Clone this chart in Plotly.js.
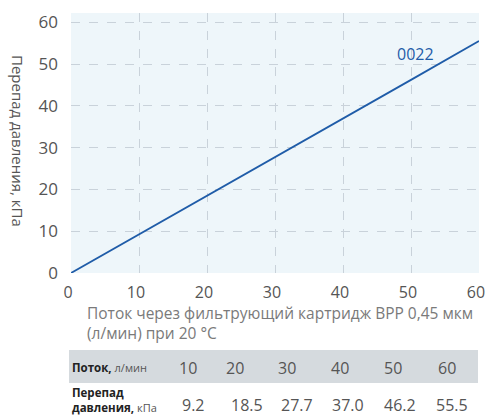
<!DOCTYPE html>
<html>
<head>
<meta charset="utf-8">
<script src="https://cdn.plot.ly/plotly-3.0.1.min.js"></script>
<style>html,body{margin:0;padding:0;background:#fff;}#chart{width:486px;height:416px;}</style>
</head>
<body>
<div id="chart"></div>
<script>
// Data
const flow = [0, 10, 20, 30, 40, 50, 60];
const pressureDrop = [0, 9.2, 18.5, 27.7, 37.0, 46.2, 55.5];
const seriesName = "0022";
const tableFlow = ["10", "20", "30", "40", "50", "60"];
const tableDrop = ["9.2", "18.5", "27.7", "37.0", "46.2", "55.5"];
const yTicks = [0, 10, 20, 30, 40, 50, 60];
const xTicks = [0, 10, 20, 30, 40, 50, 60];

const W = 486, H = 416;
const L = 71, R = 7, T = 13, B = 143;
const pw = W - L - R, ph = H - T - B;
const px = v => (v - L) / pw;
const py = v => (H - B - v) / ph;

const font = "'Open Sans', 'Noto Sans', sans-serif";
const blue = "#1f5ca8";

const trace = {
  x: flow, y: pressureDrop, type: "scatter", mode: "lines",
  line: {color: blue, width: 1.8}, hoverinfo: "skip", showlegend: false
};

const annotations = [];
annotations.push({
  x: 50.6, y: 52.4, xref: "x", yref: "y", text: seriesName, showarrow: false,
  xanchor: "center", yanchor: "middle",
  font: {family: font, size: 16, color: blue}
});
annotations.push({
  x: px(18), y: py(141), xref: "paper", yref: "paper", xanchor: "center", yanchor: "middle",
  showarrow: false, textangle: 90, text: "Перепад давления, кПа",
  font: {family: font, size: 15, color: "#555"}
});
annotations.push({
  x: px(85), y: py(300), xref: "paper", yref: "paper", xanchor: "left", yanchor: "top",
  align: "left", showarrow: false,
  text: "Поток через фильтрующий картридж BPP 0,45 мкм<br>(л/мин) при 20 °C",
  font: {family: font, size: 15.5, color: "#7a7a7a"}
});
// Table labels
annotations.push({
  x: px(70), y: py(367), xref: "paper", yref: "paper", xanchor: "left", yanchor: "middle",
  showarrow: false, align: "left",
  text: "<b>Поток,</b> <span style='font-size:11px;color:#555'>л/мин</span>",
  font: {family: font, size: 11.5, color: "#222"}
});
annotations.push({
  x: px(70), y: py(400), xref: "paper", yref: "paper", xanchor: "left", yanchor: "middle",
  showarrow: false, align: "left",
  text: "<b>Перепад</b><br><b>давления,</b> <span style='font-size:11px;color:#555'>кПа</span>",
  font: {family: font, size: 11.5, color: "#222"}
});
const row1x = [188, 235, 287, 340, 393, 447];
const row2x = [193, 247, 297, 348, 400, 452];
tableFlow.forEach((t, i) => annotations.push({
  x: px(row1x[i]), y: py(368), xref: "paper", yref: "paper", xanchor: "center", yanchor: "middle",
  showarrow: false, text: t, font: {family: font, size: 16, color: "#555"}
}));
tableDrop.forEach((t, i) => annotations.push({
  x: px(row2x[i]), y: py(405), xref: "paper", yref: "paper", xanchor: "center", yanchor: "middle",
  showarrow: false, text: t, font: {family: font, size: 16, color: "#555"}
}));

const shapes = [{
  type: "rect", xref: "paper", yref: "paper",
  x0: px(69), x1: px(478), y0: py(383), y1: py(350),
  fillcolor: "#d5dade", line: {width: 0}, layer: "below"
}];

const layout = {
  width: W, height: H,
  margin: {l: L, r: R, t: T, b: B, pad: 0},
  paper_bgcolor: "#ffffff", plot_bgcolor: "#eef6fa",
  font: {family: font, color: "#555"},
  xaxis: {
    range: [0, 60], tickvals: xTicks, ticktext: xTicks.map(String),
    showgrid: true, gridcolor: "#c9d2da", griddash: "dash", gridwidth: 1,
    zeroline: false, showline: false, ticks: "", ticklabelstandoff: 8,
    ticklabeloverflow: "allow", ticklabelshift: -3,
    tickfont: {family: font, size: 16, color: "#555"}
  },
  yaxis: {
    range: [0, 62.2], tickvals: yTicks, ticktext: yTicks.map(String),
    showgrid: true, gridcolor: "#c9d2da", griddash: "dash", gridwidth: 1,
    zeroline: false, showline: false, ticks: "", ticklabelstandoff: 12,
    ticklabeloverflow: "allow",
    tickfont: {family: font, size: 17, color: "#555"}
  },
  annotations: annotations,
  shapes: shapes,
  showlegend: false
};

Plotly.newPlot("chart", [trace], layout, {staticPlot: true, displayModeBar: false});
</script>
</body>
</html>
